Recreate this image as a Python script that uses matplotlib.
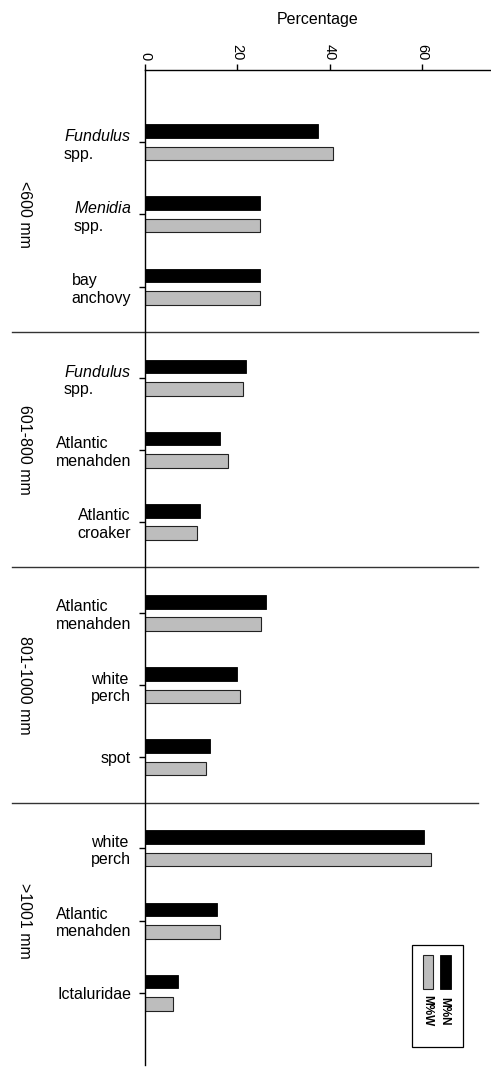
"""Diet composition by predator size class (M%N / M%W), horizontal bar chart."""

import matplotlib
matplotlib.use("Agg")
import matplotlib.pyplot as plt
from matplotlib.patches import Rectangle
import numpy as np

plt.rcParams["font.family"] = ["Liberation Sans", "DejaVu Sans"]
plt.rcParams["mathtext.fontset"] = "custom"
plt.rcParams["mathtext.it"] = "Liberation Sans:italic"
plt.rcParams["mathtext.rm"] = "Liberation Sans"

SIZE_CLASSES = ["<600 mm", "601-800 mm", "801-1000 mm", ">1001 mm"]
PREY = [
    ["$\\mathit{Fundulus}$\nspp.", "$\\mathit{Menidia}$\nspp.", "bay\nanchovy"],
    ["$\\mathit{Fundulus}$\nspp.", "Atlantic\nmenahden", "Atlantic\ncroaker"],
    ["Atlantic\nmenahden", "white\nperch", "spot"],
    ["white\nperch", "Atlantic\nmenahden", "Ictaluridae"],
]
M_N = [
    [37.5, 25.0, 25.0],
    [21.9, 16.3, 12.0],
    [26.2, 20.0, 14.1],
    [60.5, 15.7, 7.2],
]
M_W = [
    [40.8, 25.0, 25.0],
    [21.2, 17.9, 11.3],
    [25.1, 20.6, 13.2],
    [62.0, 16.3, 6.0],
]

GROUP_GAP = 0.26
BAR_H = 0.19
OFF = 0.155

fig = plt.figure(figsize=(4.91, 10.67), dpi=100)
ax = fig.add_axes([0.2953, 0.0019, 0.7047, 0.9325])

ypos, labels, vn, vw = [], [], [], []
for g in range(len(SIZE_CLASSES)):
    for i in range(3):
        ypos.append(g * (3 + GROUP_GAP) + i)
        labels.append(PREY[g][i])
        vn.append(M_N[g][i])
        vw.append(M_W[g][i])
ypos = np.array(ypos)

ax.barh(ypos - OFF, vn, height=BAR_H, color="black", edgecolor="black",
        linewidth=0.6, label="M%N")
ax.barh(ypos + OFF, vw, height=BAR_H, color="#bdbdbd", edgecolor="#222222",
        linewidth=0.8, label="M%W")

ax.set_xlim(0, 75)
ax.set_ylim(ypos[-1] + 1.0, ypos[0] - 1.0)

ax.xaxis.tick_top()
ax.xaxis.set_label_position("top")
ax.set_xticks([0, 20, 40, 60])
ax.set_xticklabels(["0", "20", "40", "60"], rotation=-90, fontsize=10.5)
ax.set_xlabel("Percentage", fontsize=11.5, labelpad=14)
ax.tick_params(axis="x", direction="out", length=4, width=1, pad=3)

ax.set_yticks(ypos)
ax.set_yticklabels(labels, fontsize=11.5)
plt.setp(ax.get_yticklabels(), multialignment="left")
ax.tick_params(axis="y", direction="out", length=4, width=1, pad=6)

ax.spines["right"].set_visible(False)
ax.spines["bottom"].set_visible(False)
ax.spines["top"].set_linewidth(1)
ax.spines["left"].set_linewidth(1)

# separators between size classes, extending into the label area
for g in range(1, len(SIZE_CLASSES)):
    ysep = (ypos[3 * g - 1] + ypos[3 * g]) / 2
    ax.axhline(ysep, xmin=-0.384, xmax=0.962, color="#333333",
               linewidth=1, clip_on=False)

# size class labels
for g, name in enumerate(SIZE_CLASSES):
    yc = ypos[3 * g + 1]
    ax.text(-0.348, yc, name, transform=ax.get_yaxis_transform(),
            rotation=-90, ha="center", va="center", fontsize=11.5)

# rotated legend drawn by hand
ax.add_patch(Rectangle((0.772, 0.0181), 0.147, 0.1025, transform=ax.transAxes,
                       facecolor="white", edgecolor="black", linewidth=0.9,
                       clip_on=False))
ax.add_patch(Rectangle((0.853, 0.0764), 0.031, 0.0342, transform=ax.transAxes,
                       facecolor="black", edgecolor="black", linewidth=0.6))
ax.add_patch(Rectangle((0.803, 0.0764), 0.029, 0.0342, transform=ax.transAxes,
                       facecolor="#bdbdbd", edgecolor="#222222", linewidth=0.8))
ax.text(0.866, 0.0543, "M%N", transform=ax.transAxes, rotation=-90,
        ha="center", va="center", fontsize=8.5, fontweight="bold")
ax.text(0.816, 0.0543, "M%W", transform=ax.transAxes, rotation=-90,
        ha="center", va="center", fontsize=8.5, fontweight="bold")

fig.savefig("out.png", dpi=100)
